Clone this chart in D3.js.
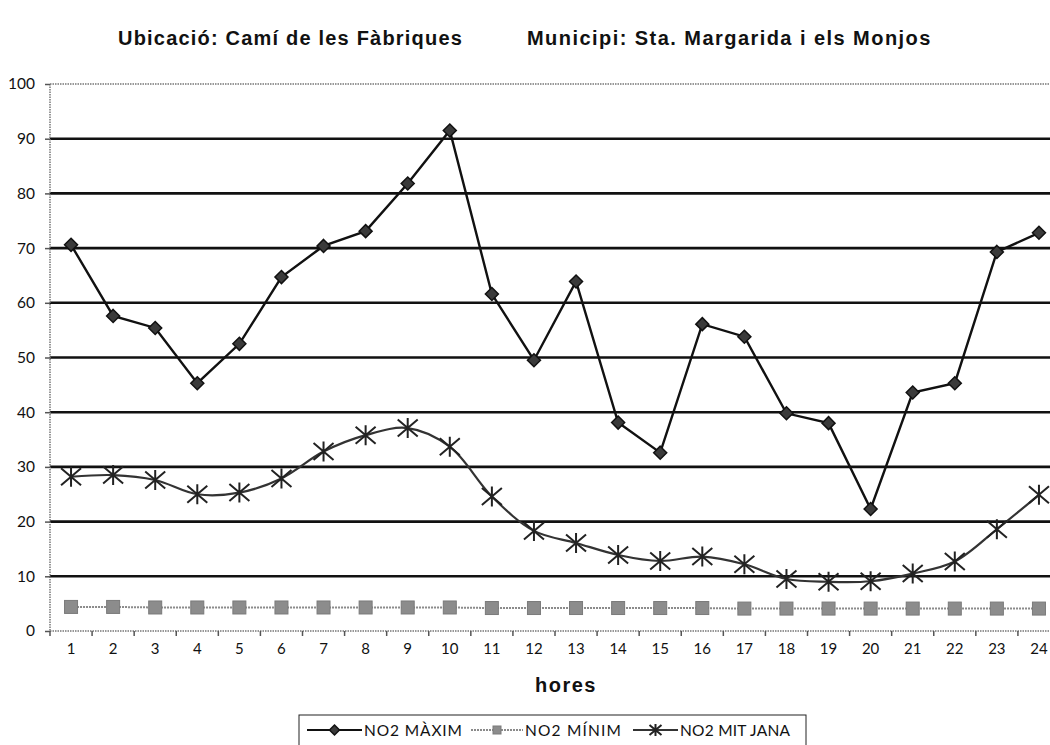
<!DOCTYPE html>
<html>
<head>
<meta charset="utf-8">
<script src="https://cdn.jsdelivr.net/npm/d3@7"></script>
<style>
  body { margin: 0; background: #fff; }
  svg { display: block; }
  .tick-lbl { font-family: "Lato", "DejaVu Sans", sans-serif; font-size: 15px; fill: #111; }
  .ttl { font-family: "Liberation Sans", Arial, sans-serif; font-weight: bold; font-size: 20px; fill: #111; }
  .leg { font-family: "Lato", "DejaVu Sans", sans-serif; font-size: 15.5px; fill: #111; }
</style>
</head>
<body>
<div id="chart"></div>
<script>
"use strict";

// hores del dia
var hores = ["1","2","3","4","5","6","7","8","9","10","11","12","13","14","15","16","17","18","19","20","21","22","23","24"];

// NO2 (valors llegits del gràfic)
var no2Maxim = [70.6, 57.6, 55.4, 45.3, 52.5, 64.7, 70.4, 73.1, 81.8, 91.5, 61.6, 49.5,
                63.9, 38.1, 32.6, 56.1, 53.8, 39.8, 38.0, 22.3, 43.6, 45.3, 69.3, 72.8];
var no2Minim = [4.4, 4.4, 4.3, 4.3, 4.3, 4.3, 4.3, 4.3, 4.3, 4.3, 4.2, 4.2,
                4.2, 4.2, 4.2, 4.2, 4.1, 4.1, 4.1, 4.1, 4.1, 4.1, 4.1, 4.1];
var no2Mitjana = [28.2, 28.5, 27.6, 25.0, 25.3, 27.9, 32.8, 35.8, 37.1, 33.7, 24.6, 18.3,
                  16.1, 13.9, 12.8, 13.6, 12.2, 9.5, 9.0, 9.1, 10.5, 12.7, 18.6, 24.9];

var yTicks = [0, 10, 20, 30, 40, 50, 60, 70, 80, 90, 100];
var titol1 = "Ubicació: Camí de les Fàbriques";
var titol2 = "Municipi: Sta. Margarida i els Monjos";
var eixX = "hores";
var llegenda = ["NO2  MÀXIM", "NO2 MÍNIM", "NO2 MIT JANA"];

var width = 1050, height = 745;
var plotLeft = 50, plotRight = 1060, plotTop = 84, plotBottom = 631;

var svg = d3.select('#chart')
            .append('svg')
            .attr('width', width)
            .attr('height', height);

var scaleX = d3.scaleBand()
              .domain(hores)
              .range([plotLeft, plotRight]);
var scaleY = d3.scaleLinear()
              .domain([0, 100])
              .range([plotBottom, plotTop]);
var cx = function(i) { return scaleX(hores[i]) + scaleX.bandwidth() / 2; };

// títols
svg.append('text').attr('class', 'ttl')
  .attr('x', 118).attr('y', 45).attr('letter-spacing', 1.2).text(titol1);
svg.append('text').attr('class', 'ttl')
  .attr('x', 527).attr('y', 45).attr('letter-spacing', 1.45).text(titol2);

// línies de la graella (10..90)
svg.append('g')
  .selectAll('line')
  .data(yTicks.filter(function(d) { return d > 0 && d < 100; }))
  .enter().append('line')
  .attr('x1', plotLeft).attr('x2', plotRight)
  .attr('y1', function(d) { return scaleY(d); })
  .attr('y2', function(d) { return scaleY(d); })
  .attr('stroke', '#111')
  .attr('stroke-width', 2.6);

// vora de l'àrea (puntejada grisa)
var border = svg.append('g')
  .attr('stroke', '#777')
  .attr('stroke-width', 1.5)
  .attr('stroke-dasharray', '1.5,1');
border.append('line').attr('x1', plotLeft).attr('x2', plotRight)
  .attr('y1', scaleY(100)).attr('y2', scaleY(100));
border.append('line').attr('x1', plotLeft).attr('x2', plotRight)
  .attr('y1', scaleY(0)).attr('y2', scaleY(0));
border.append('line').attr('x1', plotLeft).attr('x2', plotLeft)
  .attr('y1', scaleY(100)).attr('y2', scaleY(0));

// eix Y
var yAxis = d3.axisLeft(scaleY)
              .tickValues(yTicks)
              .tickSizeInner(5)
              .tickSizeOuter(0)
              .tickPadding(10);
var gY = svg.append('g')
  .attr('transform', 'translate(' + plotLeft + ',0)')
  .call(yAxis);
gY.select('.domain').remove();
gY.selectAll('.tick line').attr('stroke', '#555').attr('stroke-width', 1.5);
gY.selectAll('.tick text').attr('class', 'tick-lbl').attr('font-family', null).attr('font-size', null)
  .style('font-size', '15.5px');

// eix X (etiquetes)
var xAxis = d3.axisBottom(scaleX)
              .tickSizeInner(0)
              .tickSizeOuter(0)
              .tickPadding(12);
var gX = svg.append('g')
  .attr('transform', 'translate(0,' + plotBottom + ')')
  .call(xAxis);
gX.select('.domain').remove();
gX.selectAll('.tick text').attr('class', 'tick-lbl').attr('font-family', null).attr('font-size', null);

// marques entre categories
svg.append('g')
  .selectAll('line')
  .data(hores)
  .enter().append('line')
  .attr('x1', function(d) { return scaleX(d); })
  .attr('x2', function(d) { return scaleX(d); })
  .attr('y1', plotBottom).attr('y2', plotBottom + 5)
  .attr('stroke', '#555').attr('stroke-width', 1.5);

svg.append('text').attr('class', 'ttl')
  .attr('x', 566).attr('y', 692)
  .attr('text-anchor', 'middle')
  .attr('font-size', 16)
  .attr('letter-spacing', 1.5)
  .text(eixX);

// línies de les sèries
var line = d3.line()
  .x(function(d, i) { return cx(i); })
  .y(function(d) { return scaleY(d); });
var smooth = d3.line()
  .x(function(d, i) { return cx(i); })
  .y(function(d) { return scaleY(d); })
  .curve(d3.curveCatmullRom.alpha(0.5));

svg.append('path')
  .attr('d', line(no2Minim))
  .attr('fill', 'none')
  .attr('stroke', '#8a8a8a')
  .attr('stroke-width', 2)
  .attr('stroke-dasharray', '2,1');

svg.append('path')
  .attr('d', smooth(no2Mitjana))
  .attr('fill', 'none')
  .attr('stroke', '#333')
  .attr('stroke-width', 2.2);

svg.append('path')
  .attr('d', line(no2Maxim))
  .attr('fill', 'none')
  .attr('stroke', '#111')
  .attr('stroke-width', 2.4);

// marcadors
function diamond(g, x, y, s) {
  g.append('path')
    .attr('d', 'M' + x + ',' + (y - s) + 'L' + (x + s) + ',' + y + 'L' + x + ',' + (y + s) + 'L' + (x - s) + ',' + y + 'Z')
    .attr('fill', '#3a3a3a')
    .attr('stroke', '#111')
    .attr('stroke-width', 1.5);
}
function square(g, x, y, s) {
  g.append('rect')
    .attr('x', x - s).attr('y', y - s)
    .attr('width', 2 * s).attr('height', 2 * s)
    .attr('fill', '#8c8c8c')
    .attr('stroke', '#7a7a7a')
    .attr('stroke-width', 1);
}
function star(g, x, y, s) {
  var p = 'M' + (x - s) + ',' + (y - s * 0.85) + 'L' + (x + s) + ',' + (y + s * 0.85) +
          'M' + (x - s) + ',' + (y + s * 0.85) + 'L' + (x + s) + ',' + (y - s * 0.85) +
          'M' + x + ',' + (y - s) + 'L' + x + ',' + (y + s);
  g.append('path').attr('d', p)
    .attr('stroke', '#222')
    .attr('stroke-width', 2)
    .attr('fill', 'none');
}

var gMin = svg.append('g');
no2Minim.forEach(function(d, i) { square(gMin, cx(i), scaleY(d), 6.5); });
var gMit = svg.append('g');
no2Mitjana.forEach(function(d, i) { star(gMit, cx(i), scaleY(d), 10); });
var gMax = svg.append('g');
no2Maxim.forEach(function(d, i) { diamond(gMax, cx(i), scaleY(d), 6.5); });

// llegenda
var leg = svg.append('g');
leg.append('rect')
  .attr('x', 299).attr('y', 715)
  .attr('width', 507).attr('height', 40)
  .attr('fill', '#fff')
  .attr('stroke', '#222')
  .attr('stroke-width', 1);

var legItems = [
  { x0: 307, x1: 362, tw: 98, stroke: '#111', w: 2.2, dash: null, mark: diamond, ms: 5 },
  { x0: 471, x1: 523, tw: 96, stroke: '#8a8a8a', w: 2, dash: '2,1', mark: square, ms: 4 },
  { x0: 633, x1: 678, tw: 110, stroke: '#333', w: 2.2, dash: null, mark: star, ms: 6 }
];
llegenda.forEach(function(t, i) {
  var st = legItems[i];
  var y0 = 730;
  leg.append('line')
    .attr('x1', st.x0).attr('x2', st.x1)
    .attr('y1', y0).attr('y2', y0)
    .attr('stroke', st.stroke)
    .attr('stroke-width', st.w)
    .attr('stroke-dasharray', st.dash);
  st.mark(leg, (st.x0 + st.x1) / 2, y0, st.ms);
  leg.append('text').attr('class', 'leg')
    .attr('x', st.x1 + 2).attr('y', y0 + 5.5)
    .attr('textLength', st.tw)
    .attr('lengthAdjust', 'spacing')
    .text(t);
});
</script>
</body>
</html>
